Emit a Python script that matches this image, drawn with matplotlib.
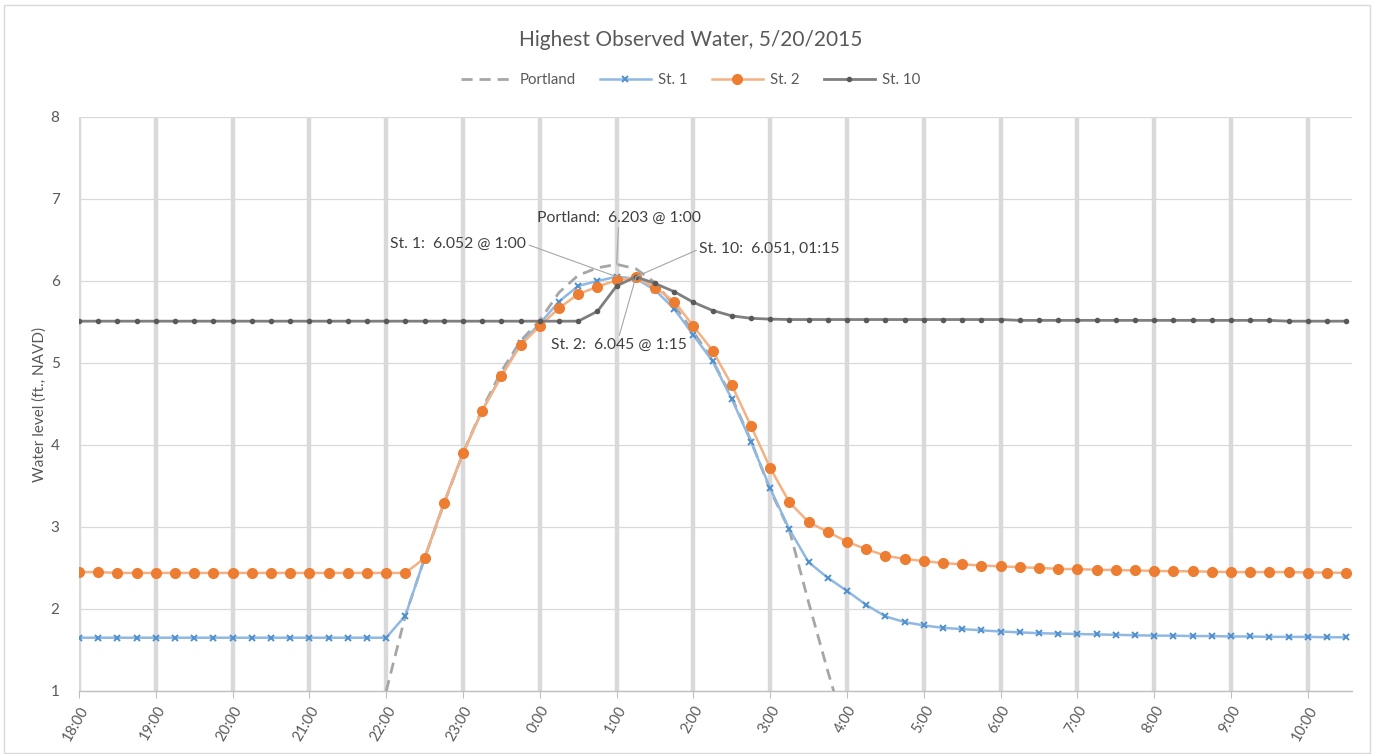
import numpy as np
import matplotlib
matplotlib.use("Agg")
import matplotlib.pyplot as plt
from matplotlib.lines import Line2D
from matplotlib.patches import Rectangle

plt.rcParams['font.family'] = ['Lato', 'DejaVu Sans']

# 15-minute readings from 18:00 to 10:30 (67 samples)
times = [f"{(18 + (m // 60)) % 24}:{m % 60:02d}" for m in range(0, 16 * 60 + 31, 15)]

hour_labels = ["18:00", "19:00", "20:00", "21:00", "22:00", "23:00", "0:00", "1:00",
               "2:00", "3:00", "4:00", "5:00", "6:00", "7:00", "8:00", "9:00", "10:00"]

nan = np.nan
portland = [nan] * 16 + [
    1.00, 1.92, 2.62, 3.28, 3.90, 4.44, 4.90, 5.27, 5.52, 5.86, 6.07, 6.16,
    6.203, 6.15, 5.98, 5.70, 5.38, 5.03, 4.58, 4.05, 3.45, 2.96, 2.08, 1.24, 0.45,
] + [nan] * 26

st1 = [1.65] * 16 + [
    1.65, 1.92, 2.62, 3.29, 3.90, 4.42, 4.85, 5.24, 5.48, 5.75, 5.94, 6.00,
    6.052, 6.03, 5.89, 5.66, 5.34, 5.02, 4.56, 4.04, 3.47, 2.97, 2.57, 2.38,
    2.22, 2.05, 1.91, 1.84, 1.80, 1.77, 1.755, 1.74, 1.725, 1.715, 1.705, 1.70,
    1.695, 1.69, 1.685, 1.68, 1.675, 1.675, 1.67, 1.67, 1.665, 1.665, 1.66,
    1.66, 1.66, 1.655, 1.655,
]

st2 = [2.45, 2.45] + [2.44] * 16 + [
    2.62, 3.29, 3.90, 4.42, 4.84, 5.22, 5.45, 5.67, 5.84, 5.93, 6.01, 6.045,
    5.92, 5.75, 5.45, 5.15, 4.73, 4.23, 3.72, 3.30, 3.06, 2.94, 2.82, 2.73,
    2.65, 2.61, 2.585, 2.56, 2.545, 2.53, 2.52, 2.51, 2.50, 2.49, 2.485, 2.48,
    2.475, 2.47, 2.465, 2.46, 2.46, 2.455, 2.45, 2.45, 2.45, 2.45, 2.445,
    2.445, 2.44,
]

st10 = [5.51] * 27 + [
    5.63, 5.94, 6.051, 5.97, 5.87, 5.74, 5.64, 5.575, 5.545, 5.535,
] + [5.53] * 12 + [5.52] * 14 + [5.51] * 4

x = np.arange(len(times))

fig = plt.figure(figsize=(13.82, 7.54), dpi=100)
ax = fig.add_axes([79 / 1382, 1 - 691 / 754, (1352 - 79) / 1382, (691 - 117) / 754])

# chart-area border
fig.patches.append(Rectangle((4 / 1382, 1 / 754), 1366 / 1382, 748 / 754,
                             transform=fig.transFigure, fill=False,
                             edgecolor="#d9d9d9", lw=1.0))

ax.plot(x, portland, color="#a6a6a6", lw=2.0, dashes=(4, 2.5), label="Portland", zorder=3)
ax.plot(x, st1, color="#8fb8e2", lw=1.8, marker="x", ms=5, mew=1.4,
        mec="#4f8fcf", label="St. 1", zorder=4)
ax.plot(x, st2, color="#f4b183", lw=1.8, marker="o", ms=7, mfc="#ed7d31",
        mec="#ed7d31", label="St. 2", zorder=5)
ax.plot(x, st10, color="#7f7f7f", lw=2.0, marker="o", ms=3, mfc="#595959",
        mec="#595959", label="St. 10", zorder=6)

ax.set_xlim(0, 66.3)
ax.set_ylim(1, 8)
ax.set_yticks(range(1, 9))

hour_pos = [times.index(h) for h in hour_labels]
ax.set_xticks(hour_pos)
ax.set_xticklabels(hour_labels, rotation=60, ha="right", va="top",
                   rotation_mode="anchor", fontsize=10.5, color="#595959")
ax.tick_params(axis="x", length=5, color="#bfbfbf", pad=4)
ax.tick_params(axis="y", length=0, pad=14, labelsize=11, labelcolor="#595959")

ax.grid(axis="x", color="#d9d9d9", lw=3.2, zorder=0)
ax.grid(axis="y", color="#d9d9d9", lw=0.9, zorder=0)
ax.set_axisbelow(True)
for s in ("top", "right", "left"):
    ax.spines[s].set_visible(False)
ax.spines["bottom"].set_color("#bfbfbf")
ax.spines["bottom"].set_linewidth(1.0)

ax.set_ylabel("Water level (ft., NAVD)", fontsize=11, color="#595959", labelpad=3)

fig.text(0.5, 1 - 40 / 754, "Highest Observed Water, 5/20/2015", ha="center",
         va="center", fontsize=15, color="#595959")

handles = [
    Line2D([], [], color="#a6a6a6", lw=2.0, dashes=(4, 2.5)),
    Line2D([], [], color="#8fb8e2", lw=1.8, marker="x", ms=5, mew=1.4, mec="#4f8fcf"),
    Line2D([], [], color="#f4b183", lw=1.8, marker="o", ms=7, mfc="#ed7d31", mec="#ed7d31"),
    Line2D([], [], color="#7f7f7f", lw=2.0, marker="o", ms=3, mfc="#595959", mec="#595959"),
]
fig.legend(handles, ["Portland", "St. 1", "St. 2", "St. 10"], loc="center",
           bbox_to_anchor=(0.5, 1 - 80 / 754), ncol=4, frameon=False,
           fontsize=10.8, labelcolor="#595959", handlelength=3.4,
           columnspacing=1.6, handletextpad=0.5)

# peak annotations
lead = dict(arrowstyle="-", color="#a6a6a6", lw=0.8, shrinkA=0, shrinkB=0)
i_pk = times.index("1:00")
i_pk2 = times.index("1:15")
ann_kw = dict(fontsize=11.3, color="#404040", zorder=10)
ax.annotate(f"Portland:  {portland[i_pk]:.3f} @ 1:00", xy=(i_pk, portland[i_pk]),
            xytext=(28.1, 6.77), ha="center", va="center",
            arrowprops=dict(lead, relpos=(0.5, 0.0)), **ann_kw)
ax.annotate(f"St. 1:  {st1[i_pk]:.3f} @ 1:00", xy=(i_pk, st1[i_pk]),
            xytext=(23.3, 6.45), ha="right", va="center",
            arrowprops=dict(lead, relpos=(1.0, 0.5)), **ann_kw)
ax.annotate(f"St. 10:  {st10[i_pk2]:.3f}, 01:15", xy=(i_pk2, st10[i_pk2]),
            xytext=(32.3, 6.39), ha="left", va="center",
            arrowprops=dict(lead, relpos=(0.0, 0.5)), **ann_kw)
ax.annotate(f"St. 2:  {st2[i_pk2]:.3f} @ 1:15", xy=(i_pk2, st2[i_pk2]),
            xytext=(28.1, 5.22), ha="center", va="center",
            arrowprops=dict(lead, relpos=(0.5, 1.0)), **ann_kw)

fig.savefig("out.png", dpi=100)
